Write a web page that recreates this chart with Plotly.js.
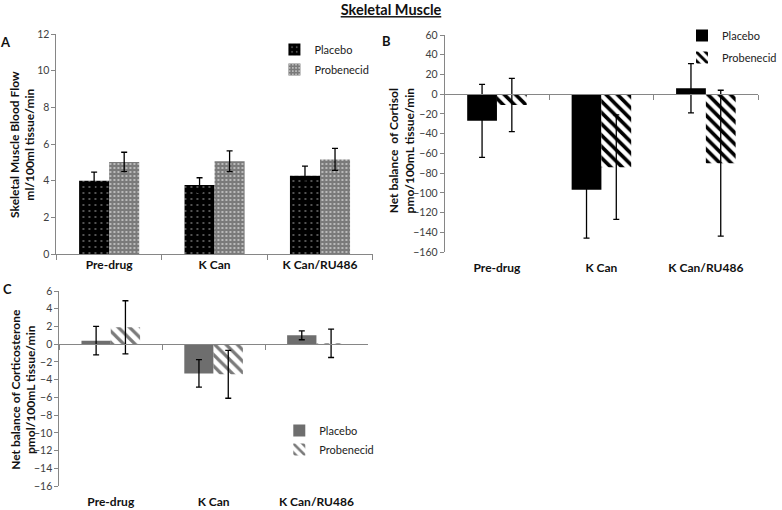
<!DOCTYPE html>
<html>
<head>
<meta charset="utf-8">
<script src="https://cdn.plot.ly/plotly-3.0.1.min.js"></script>
<style>html,body{margin:0;padding:0;background:#fff;}#chart{width:782px;height:510px;}</style>
</head>
<body>
<div id="chart"></div>
<script>
// ---- data ----
var categories = ["Pre-drug", "K Can", "K Can/RU486"];
var seriesNames = ["Placebo", "Probenecid"];

var flowPlacebo = [4.0, 3.76, 4.27];
var flowPlaceboErr = [0.47, 0.40, 0.52];
var flowProbenecid = [5.02, 5.06, 5.16];
var flowProbenecidErr = [0.53, 0.57, 0.60];

var cortisolPlacebo = [-27, -97, 6];
var cortisolPlaceboErr = [37, 49, 25];
var cortisolProbenecid = [-11, -74, -70];
var cortisolProbenecidErr = [27, 53, 74];

var corticoPlacebo = [0.4, -3.3, 1.0];
var corticoPlaceboErr = [1.6, 1.55, 0.5];
var corticoProbenecid = [1.9, -3.4, 0.1];
var corticoProbenecidErr = [3.0, 2.7, 1.6];

var tickA = {range: [0, 12], dtick: 2};
var tickB = {range: [-160, 60], dtick: 20};
var tickC = {range: [-16, 6], dtick: 2};

var titleMain = "Skeletal Muscle";
var titleA = "Skeletal Muscle Blood Flow<br>ml/100ml tissue/min";
var titleB = "Net balance  of Cortisol<br>pmo/100mL tissue/min";
var titleC = "Net balance of Corticosterone<br>pmol/100mL tissue/min";

// ---- layout helpers ----
var W = 782, H = 510;
function fx(px) { return px / W; }
function fy(px) { return 1 - px / H; }
var FONT = "Lato, 'Open Sans', sans-serif";
var AXC = "#868686";
var catIdx = categories.map(function (c, i) { return i; });

// panel boxes in pixels: [left, right, top, bottom]
var boxA = [58, 383, 34, 254];
var boxB = [457, 779, 35, 252];
var boxC = [61, 378, 291, 486];

function zeroPos(box, rng) {
  var d0 = fy(box[3]), d1 = fy(box[2]);
  return d0 + (0 - rng[0]) / (rng[1] - rng[0]) * (d1 - d0);
}

function errY(arr) {
  return {type: "data", array: arr, visible: true, color: "#000", thickness: 1.3, width: 3};
}

var traces = [
  {type: "bar", x: categories, y: flowPlacebo, name: seriesNames[0], xaxis: "x", yaxis: "y",
   legend: "legend", legendgroup: "a1",
   marker: {color: "#000", line: {width: 0},
            pattern: {shape: ".", bgcolor: "#000", fgcolor: "#bbbbbb", size: 6, solidity: 0.06}},
   error_y: errY(flowPlaceboErr)},
  {type: "bar", x: categories, y: flowProbenecid, name: seriesNames[1], xaxis: "x", yaxis: "y",
   legend: "legend", legendgroup: "a2",
   marker: {color: "#8c8c8c", line: {width: 0},
            pattern: {shape: ".", bgcolor: "#7a7a7a", fgcolor: "#d0d0d0", size: 4, solidity: 0.2}},
   error_y: errY(flowProbenecidErr)},

  {type: "bar", x: categories, y: cortisolPlacebo, name: seriesNames[0], xaxis: "x2", yaxis: "y2",
   legend: "legend2", legendgroup: "b1",
   marker: {color: "#000", line: {width: 0}},
   error_y: errY(cortisolPlaceboErr)},
  {type: "bar", x: categories, y: cortisolProbenecid, name: seriesNames[1], xaxis: "x2", yaxis: "y2",
   legend: "legend2", legendgroup: "b2",
   marker: {color: "#fff", line: {width: 0},
            pattern: {shape: "\\", bgcolor: "#ffffff", fgcolor: "#000000", size: 8, solidity: 0.45}},
   error_y: errY(cortisolProbenecidErr)},

  {type: "bar", x: categories, y: corticoPlacebo, name: seriesNames[0], xaxis: "x3", yaxis: "y3",
   legend: "legend3", legendgroup: "c1",
   marker: {color: "#6e6e6e", line: {width: 0}},
   error_y: errY(corticoPlaceboErr)},
  {type: "bar", x: categories, y: corticoProbenecid, name: seriesNames[1], xaxis: "x3", yaxis: "y3",
   legend: "legend3", legendgroup: "c2",
   marker: {color: "#fff", line: {width: 0},
            pattern: {shape: "\\", bgcolor: "#ffffff", fgcolor: "#7a7a7a", size: 8, solidity: 0.4}},
   error_y: errY(corticoProbenecidErr)},

  // empty helper traces so the bottom label axes of panels B and C exist
  {type: "scatter", x: [], y: [], xaxis: "x4", yaxis: "y2", showlegend: false, hoverinfo: "skip"},
  {type: "scatter", x: [], y: [], xaxis: "x5", yaxis: "y3", showlegend: false, hoverinfo: "skip"}
];

var catFont = {family: FONT, size: 12, color: "#111", weight: "bold"};

function xAxis(box, rng, yid) {
  var ax = {
    domain: [fx(box[0]), fx(box[1])], type: "category", categoryarray: categories,
    showline: true, linecolor: AXC, linewidth: 1,
    ticks: "outside", tickson: "boundaries", ticklen: 5, tickcolor: AXC,
    showgrid: false, zeroline: false, fixedrange: true,
    tickfont: catFont
  };
  if (rng[0] < 0) {
    ax.anchor = "free";
    ax.position = zeroPos(box, rng);
    ax.showticklabels = false;
  } else {
    ax.anchor = yid;
  }
  return ax;
}
function labelAxis(box, overlay, yid) {
  return {
    domain: [fx(box[0]), fx(box[1])], overlaying: overlay, anchor: yid, side: "bottom",
    type: "linear", range: [-0.5, categories.length - 0.5],
    tickmode: "array", tickvals: catIdx, ticktext: categories,
    showline: false, ticks: "outside", ticklen: 5, tickcolor: "rgba(0,0,0,0)",
    showgrid: false, zeroline: false, fixedrange: true, tickfont: catFont
  };
}
function yAxis(box, t, xid) {
  return {
    domain: [fy(box[3]), fy(box[2])], range: t.range, dtick: t.dtick, anchor: xid,
    showline: true, linecolor: AXC, linewidth: 1, ticks: "outside", ticklen: 4, tickcolor: AXC,
    showgrid: false, zeroline: false, fixedrange: true,
    tickfont: {family: FONT, size: 10.5, color: "#404040"}
  };
}

function legendAt(xpx, ypx, gap) {
  return {x: fx(xpx), y: fy(ypx), xanchor: "left", yanchor: "top", bgcolor: "rgba(0,0,0,0)",
          font: {family: FONT, size: 11, color: "#222"}, traceorder: "grouped", tracegroupgap: gap,
          itemwidth: 30, itemclick: false};
}

function label(t, xpx, ypx, size, angle) {
  return {text: t, x: fx(xpx), y: fy(ypx), xref: "paper", yref: "paper",
          xanchor: "center", yanchor: "middle", showarrow: false, textangle: angle || 0,
          font: {family: FONT, size: size, color: "#111", weight: "bold"}};
}

var layout = {
  width: W, height: H, margin: {l: 0, r: 0, t: 0, b: 0},
  paper_bgcolor: "#fff", plot_bgcolor: "rgba(0,0,0,0)",
  showlegend: true, barmode: "group", bargap: 0.43, bargroupgap: 0,
  font: {family: FONT},
  title: {text: "<u>" + titleMain + "</u>", x: 0.5, xanchor: "center", y: fy(10), yanchor: "middle",
          font: {family: FONT, size: 14.5, color: "#111", weight: "bold"}},
  xaxis: xAxis(boxA, tickA.range, "y"),
  yaxis: yAxis(boxA, tickA, "x"),
  xaxis2: xAxis(boxB, tickB.range, "y2"),
  yaxis2: yAxis(boxB, tickB, "x2"),
  xaxis3: xAxis(boxC, tickC.range, "y3"),
  yaxis3: yAxis(boxC, tickC, "x3"),
  xaxis4: labelAxis(boxB, "x2", "y2"),
  xaxis5: labelAxis(boxC, "x3", "y3"),
  legend: legendAt(282, 35, 1),
  legend2: legendAt(701, 21, 3),
  legend3: legendAt(287, 416, 0),
  annotations: [
    label("A", 6, 42, 13), label("B", 397, 41, 13), label("C", 8, 289, 13),
    label(titleA, 22.5, 144, 12, -90),
    label(titleB, 412.5, 150, 12, -90),
    label(titleC, 23.5, 389, 12, -90)
  ]
};

Plotly.newPlot("chart", traces, layout, {staticPlot: true, displayModeBar: false});
</script>
</body>
</html>
